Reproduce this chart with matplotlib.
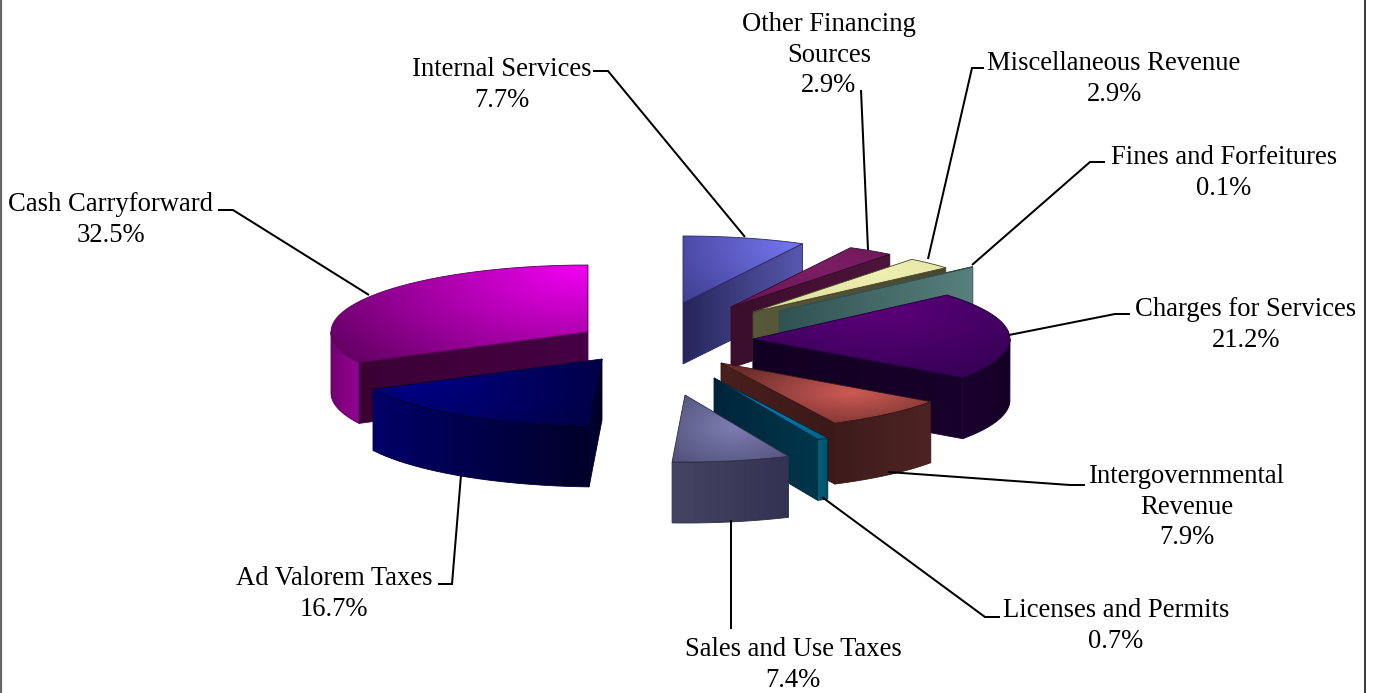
import numpy as np
import matplotlib
matplotlib.use("Agg")
import matplotlib.pyplot as plt
from matplotlib.patches import PathPatch
from matplotlib.path import Path

categories = ["Cash Carryforward", "Ad Valorem Taxes", "Sales and Use Taxes",
              "Licenses and Permits", "Intergovernmental\nRevenue", "Charges for Services",
              "Fines and Forfeitures", "Miscellaneous Revenue",
              "Other Financing\nSources", "Internal Services"]
shares = [32.5, 16.7, 7.4, 0.7, 7.9, 21.2, 0.1, 2.9, 2.9, 7.7]

# ---- layout / style -------------------------------------------------------
W, H = 1373, 693
RX, RY, DEPTH = 257.0, 67.0, 61.0
CENTER = (645, 345)
# explosion of each slice from the pie centre, in pixels
EXPLODE = [(-57, -13), (-43, 14), (40, 50), (69, 33), (76, 18),
           (108, -6), (134, -34), (108, -33), (86, -38), (38, -42)]
# painter's order, back to front
ORDER = [9, 8, 7, 6, 5, 4, 3, 2, 0, 1]
# top-face gradient: bright, dark, highlight offset from apex, falloff radii
TOP = [((238, 0, 238), (92, 0, 92), (-10, -62), 310, 150),
       ((0, 0, 132), (0, 0, 55), (-185, 25), 240, 110),
       ((125, 125, 178), (80, 80, 120), (48, 32), 85, 50),
       ((0, 120, 170), (0, 90, 130), (60, 30), 100, 60),
       ((205, 90, 85), (105, 45, 42), (130, 30), 130, 42),
       ((92, 0, 122), (48, 0, 80), (125, -30), 230, 85),
       ((80, 120, 120), (70, 110, 110), (100, -20), 200, 60),
       ((240, 240, 180), (215, 215, 150), (120, -40), 200, 60),
       ((125, 30, 100), (95, 20, 80), (80, -40), 200, 60),
       ((115, 115, 235), (66, 66, 150), (105, -58), 130, 80)]
# outer-wall colours, left to right
WALL = [((115, 0, 115), (150, 0, 150)), ((0, 0, 105), (0, 0, 40)),
        ((68, 68, 98), (50, 50, 82)), ((0, 95, 120), (0, 80, 105)),
        ((62, 28, 28), (78, 35, 35)), ((28, 0, 48), (20, 0, 36)),
        ((70, 110, 110), (70, 110, 110)), ((90, 90, 60), (90, 90, 60)),
        ((60, 15, 48), (60, 15, 48)), ((60, 60, 130), (60, 60, 130))]
# radial-face colours, left to right
SIDE = [((58, 0, 52), (70, 0, 68)), ((0, 0, 55), (0, 0, 35)),
        ((60, 60, 90), (60, 60, 90)), ((0, 36, 58), (0, 55, 75)),
        ((72, 32, 30), (60, 24, 24)), ((18, 0, 34), (24, 0, 42)),
        ((48, 82, 82), (88, 128, 125)), ((88, 88, 58), (72, 72, 46)),
        ((58, 14, 44), (78, 20, 60)), ((38, 38, 90), (88, 88, 175))]
EDGE = [(85, 0, 85), (0, 0, 45), (45, 45, 68), (0, 40, 60), (55, 22, 22),
        (28, 0, 50), (50, 80, 80), (70, 70, 40), (50, 10, 40), (40, 40, 105)]
LABELS = [(111, 220), (334, 594), (793, 665), (1116, 626), (1187, 507),
          (1246, 325), (1224, 173), (1114, 79), (829, 55), (502, 85)]
LEADERS = [[(218, 210), (233, 210), (369, 295)],
           [(438, 584), (452, 584), (461, 475)],
           [(731, 629), (731, 520)],
           [(1000, 617), (985, 617), (822, 497)],
           [(1085, 485), (1070, 485), (888, 472)],
           [(1130, 314), (1115, 314), (1009, 335)],
           [(1105, 162), (1090, 162), (972, 265)],
           [(984, 68), (972, 68), (928, 259)],
           [(861, 90), (868, 250)],
           [(593, 71), (608, 71), (745, 237)]]

plt.rcParams["font.family"] = ["Liberation Serif", "DejaVu Serif"]
fig = plt.figure(figsize=(W / 100, H / 100), dpi=100)
ax = fig.add_axes([0, 0, 1, 1])
ax.set_xlim(0, W)
ax.set_ylim(H, 0)
ax.axis("off")


def rim(apex, deg):
    t = np.radians(deg)
    return np.column_stack((apex[0] - RX * np.sin(t), apex[1] - RY * np.cos(t)))


def paint(poly, fn, z, edge):
    poly = np.asarray(poly)
    x0, y0 = np.floor(poly.min(axis=0)) - 1
    x1, y1 = np.ceil(poly.max(axis=0)) + 1
    xs, ys = np.meshgrid(np.arange(x0, x1 + 1), np.arange(y0, y1 + 1))
    rgb = np.clip(fn(xs, ys), 0, 255) / 255.0
    im = ax.imshow(rgb, extent=(x0 - .5, x1 + .5, y1 + .5, y0 - .5), aspect="auto",
                   interpolation="bilinear", zorder=z)
    closed = np.vstack((poly, poly[0]))
    patch = PathPatch(Path(closed), transform=ax.transData, fc="none",
                      ec=np.array(edge) / 255.0, lw=0.6, zorder=z + 0.1)
    ax.add_patch(patch)
    im.set_clip_path(patch)
    patch.set_clip_on(False)


def linear(c0, c1, xa, xb):
    c0, c1 = np.array(c0, float), np.array(c1, float)
    def fn(xs, ys):
        t = np.clip((xs - xa) / max(xb - xa, 1), 0, 1)[..., None]
        return c0 + (c1 - c0) * t
    return fn


def radial(hi, lo, cx, cy, sx, sy):
    hi, lo = np.array(hi, float), np.array(lo, float)
    def fn(xs, ys):
        d = np.hypot((xs - cx) / sx, (ys - cy) / sy)
        t = np.clip(1 - d, 0, 1)[..., None]
        return lo + (hi - lo) * t
    return fn


cum = np.concatenate(([0.0], np.cumsum(shares)))
starts = cum[:-1] / cum[-1] * 360
ends = cum[1:] / cum[-1] * 360

for rank, i in enumerate(ORDER):
    z = 2 + rank
    a1, a2 = starts[i], ends[i]
    apex = np.array([CENTER[0] + EXPLODE[i][0], CENTER[1] + EXPLODE[i][1]], float)
    n = max(int(a2 - a1) * 2, 2)
    arc = rim(apex, np.linspace(a1, a2, n))
    down = np.array([0, DEPTH])

    # radial faces
    faces = []
    if np.sin(np.radians(a2)) > 0:
        faces.append(a2)
    if np.sin(np.radians(a1)) < 0:
        faces.append(a1)
    for a in faces:
        p = rim(apex, np.array([a]))[0]
        quad = [apex, p, p + down, apex + down]
        xa, xb = sorted((apex[0], p[0]))
        paint(quad, linear(*SIDE[i], xa, xb), z, EDGE[i])

    # outer wall
    lo, hi = max(a1, 90), min(a2, 270)
    if hi > lo:
        wa = rim(apex, np.linspace(lo, hi, max(int(hi - lo) * 2, 2)))
        poly = np.vstack((wa, (wa + down)[::-1]))
        xa, xb = poly[:, 0].min(), poly[:, 0].max()
        paint(poly, linear(*WALL[i], xa, xb), z + 0.2, EDGE[i])

    # top face
    hi_c, lo_c, off, sx, sy = TOP[i]
    poly = np.vstack(([apex], arc))
    paint(poly, radial(hi_c, lo_c, apex[0] + off[0], apex[1] + off[1], sx, sy), z + 0.4, EDGE[i])

# leader lines and labels
for i, name in enumerate(categories):
    pts = np.array(LEADERS[i])
    ax.plot(pts[:, 0], pts[:, 1], color="black", lw=1.45, zorder=30,
            solid_joinstyle="miter", solid_capstyle="butt")
    ax.text(LABELS[i][0], LABELS[i][1], f"{name}\n{shares[i]:.1f}%", ha="center", va="center",
            ma="center", fontsize=19.2, linespacing=1.28, color="black", zorder=31)

# frame
ax.plot([0.8, 0.8], [0, H], color="#666666", lw=1.6, zorder=32, clip_on=False)
ax.plot([1365, 1365], [0, H], color="black", lw=1.1, zorder=32, clip_on=False)

ax.set_xlim(0, W)
ax.set_ylim(H, 0)
fig.savefig("out.png", dpi=100, facecolor="white")
